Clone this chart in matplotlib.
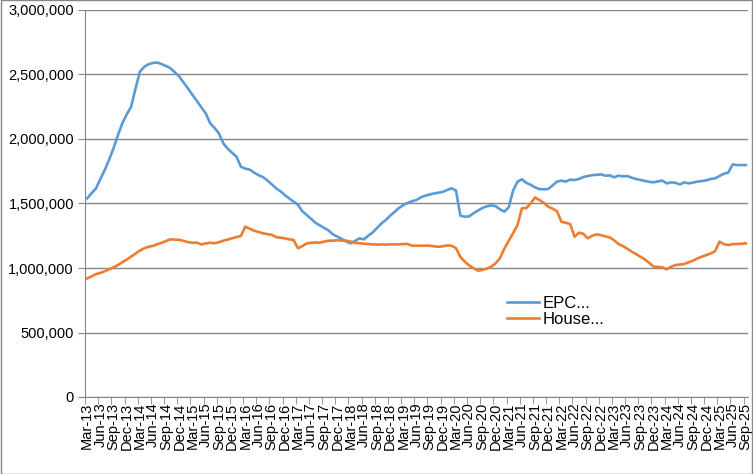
import matplotlib
matplotlib.use("Agg")
import matplotlib.pyplot as plt
import numpy as np
from matplotlib.ticker import FuncFormatter, MultipleLocator

plt.rcParams['font.family'] = ['Liberation Sans', 'DejaVu Sans']

# month labels Mar-13 .. Sep-25
months = ["Jan", "Feb", "Mar", "Apr", "May", "Jun", "Jul", "Aug", "Sep", "Oct", "Nov", "Dec"]
dates = []
for yr in range(13, 26):
    for m in range(12):
        if (yr == 13 and m < 2) or (yr == 25 and m > 8):
            continue
        dates.append(f"{months[m]}-{yr}")

epc = [1540, 1580, 1617, 1690, 1760, 1840, 1928, 2030, 2122, 2190,
       2250, 2390, 2522, 2560, 2580, 2590, 2592, 2580, 2565, 2548,
       2515, 2483, 2435, 2390, 2341, 2295, 2245, 2199, 2122, 2085,
       2044, 1966, 1925, 1893, 1863, 1785, 1770, 1763, 1740, 1720,
       1705, 1680, 1650, 1618, 1595, 1565, 1540, 1515, 1490, 1440,
       1411, 1380, 1350, 1330, 1310, 1290, 1260, 1243, 1225, 1205,
       1191, 1210, 1230, 1222, 1250, 1275, 1310, 1345, 1372, 1405,
       1435, 1465, 1488, 1505, 1518, 1527, 1548, 1560, 1570, 1578,
       1584, 1590, 1605, 1618, 1600, 1405, 1398, 1400, 1425, 1445,
       1465, 1478, 1485, 1480, 1455, 1437, 1470, 1600, 1669, 1688,
       1660, 1645, 1625, 1612, 1610, 1612, 1640, 1670, 1677, 1670,
       1685, 1682, 1690, 1705, 1713, 1720, 1722, 1726, 1716, 1718,
       1703, 1716, 1710, 1713, 1700, 1690, 1683, 1675, 1668, 1664,
       1672, 1677, 1656, 1664, 1660, 1648, 1664, 1656, 1662, 1670,
       1674, 1680, 1690, 1695, 1713, 1730, 1740, 1803, 1798, 1798,
       1798]

house = [920, 935, 953, 962, 975, 990, 1005, 1023, 1045, 1065,
         1088, 1110, 1135, 1153, 1165, 1171, 1185, 1196, 1210, 1222,
         1220, 1218, 1210, 1200, 1196, 1196, 1183, 1190, 1196, 1192,
         1200, 1212, 1220, 1230, 1240, 1248, 1320, 1305, 1289, 1280,
         1269, 1263, 1258, 1240, 1235, 1230, 1222, 1217, 1153, 1170,
         1190, 1196, 1198, 1196, 1205, 1212, 1212, 1215, 1212, 1212,
         1205, 1196, 1192, 1188, 1186, 1183, 1181, 1183, 1181, 1183,
         1183, 1183, 1186, 1186, 1173, 1173, 1173, 1173, 1173, 1168,
         1165, 1168, 1175, 1173, 1153, 1085, 1049, 1020, 998, 979,
         985, 995, 1010, 1036, 1075, 1150, 1210, 1270, 1333, 1462,
         1465, 1500, 1547, 1527, 1505, 1475, 1460, 1440, 1359, 1350,
         1341, 1243, 1274, 1265, 1230, 1250, 1261, 1255, 1245, 1237,
         1215, 1186, 1170, 1150, 1127, 1108, 1087, 1067, 1040, 1010,
         1008, 1005, 990, 1010, 1023, 1027, 1031, 1045, 1057, 1075,
         1088, 1100, 1113, 1130, 1204, 1185, 1178, 1185, 1186, 1188,
         1191]

epc = np.array(epc) * 1000
house = np.array(house) * 1000
x = np.arange(len(dates))

fig = plt.figure(figsize=(7.53, 4.74), dpi=100)
ax = fig.add_axes([85/753, 1 - 397/474, 663/753, 387/474])

ax.plot(x, epc, color="#5B9BD5", lw=1.9, label="EPC...")
ax.plot(x, house, color="#ED7D31", lw=1.9, label="House...")

ax.set_xlim(-0.5, len(dates) - 0.5)
ax.set_ylim(0, 3000000)
ax.yaxis.set_major_locator(MultipleLocator(500000))
ax.yaxis.set_major_formatter(FuncFormatter(lambda v, p: f"{int(v):,}"))
ax.grid(axis="y", color="#868686", lw=1)
ax.set_axisbelow(True)

ax.set_xticks(x[::3])
ax.set_xticklabels(dates[::3], rotation=90, fontsize=10.5)
ax.set_xticks(np.arange(-0.5, len(dates), 3), minor=True)
ax.tick_params(axis="x", which="major", length=0, pad=4)
ax.tick_params(axis="x", which="minor", length=5, color="#868686")
ax.tick_params(axis="y", length=5, color="#868686", labelsize=10.5, pad=3)

for s in ["top", "right"]:
    ax.spines[s].set_visible(False)
for s in ["left", "bottom"]:
    ax.spines[s].set_color("#868686")

ax.legend(loc="upper left", bbox_to_anchor=(0.626, 0.278), frameon=False,
          fontsize=12, handlelength=1.95, handletextpad=0.2, labelspacing=0.05,
          borderaxespad=0)

# chart area border
fig.patches.append(plt.Rectangle((0.001, 0.001), 0.998, 0.998, transform=fig.transFigure,
                                 fill=False, edgecolor="#868686", lw=1))

fig.savefig("out.png", dpi=100)
